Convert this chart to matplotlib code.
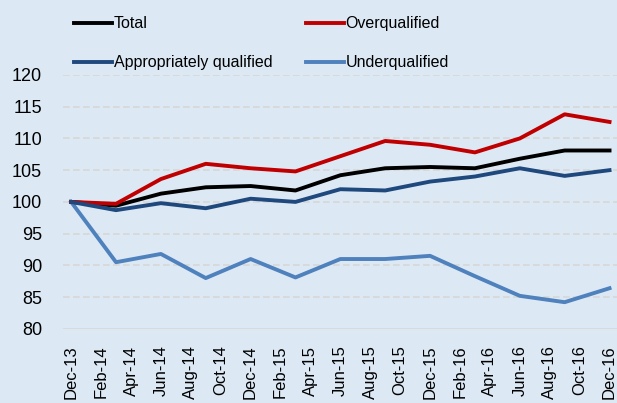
import matplotlib.pyplot as plt

# quarterly index values, Dec-13 = 100
months = list(range(0, 37, 3))
total = [100, 99.4, 101.3, 102.3, 102.5, 101.8, 104.2, 105.3, 105.5, 105.3, 106.8, 108.1, 108.1]
over = [100, 99.7, 103.6, 106.0, 105.3, 104.8, 107.2, 109.6, 109.0, 107.8, 110.0, 113.8, 112.6]
approp = [100, 98.7, 99.8, 99.0, 100.5, 100.0, 102.0, 101.8, 103.2, 104.0, 105.3, 104.1, 105.0]
under = [100, 90.5, 91.8, 88.0, 91.0, 88.1, 91.0, 91.0, 91.5, 88.3, 85.2, 84.2, 86.4]

tick_labels = ["Dec-13", "Feb-14", "Apr-14", "Jun-14", "Aug-14", "Oct-14", "Dec-14",
               "Feb-15", "Apr-15", "Jun-15", "Aug-15", "Oct-15", "Dec-15",
               "Feb-16", "Apr-16", "Jun-16", "Aug-16", "Oct-16", "Dec-16"]
tick_pos = list(range(0, 37, 2))

plt.rcParams['font.family'] = ['Liberation Sans', 'DejaVu Sans']
bg = "#DCE9F5"

fig = plt.figure(figsize=(6.17, 4.03), dpi=100, facecolor=bg)
ax = fig.add_axes([0.102, 0.184, 0.898, 0.630], facecolor=bg)

for y in range(85, 121, 5):
    ax.axhline(y, color="#D6D6D6", lw=1.2, ls=(0, (4, 2)), zorder=1)
ax.axhline(80, color="#D6D6D6", lw=1.2, zorder=1)

lw = 2.8
l_total, = ax.plot(months, total, color="black", lw=lw, label="Total", zorder=3)
l_over, = ax.plot(months, over, color="#C00000", lw=lw, label="Overqualified", zorder=3)
l_app, = ax.plot(months, approp, color="#1F497D", lw=lw, label="Appropriately qualified", zorder=3)
l_under, = ax.plot(months, under, color="#4F81BD", lw=lw, label="Underqualified", zorder=2)

ax.set_xlim(-0.55, 36.5)
ax.set_ylim(80, 120)
ax.set_yticks(range(80, 121, 5))
ax.set_xticks(tick_pos)
ax.set_xticklabels(tick_labels, rotation=90)
ax.tick_params(axis="both", length=0)
ax.tick_params(axis="y", labelsize=13, pad=15)
ax.tick_params(axis="x", labelsize=12, pad=12)
for s in ax.spines.values():
    s.set_visible(False)

fig.legend(handles=[l_total, l_app, l_over, l_under], ncol=2, frameon=False,
           loc="upper left", bbox_to_anchor=(0.096, 0.995), fontsize=11.5,
           handlelength=2.4, handletextpad=0.1, columnspacing=2.1, labelspacing=1.5)

plt.savefig("out.png", dpi=100, facecolor=bg)
